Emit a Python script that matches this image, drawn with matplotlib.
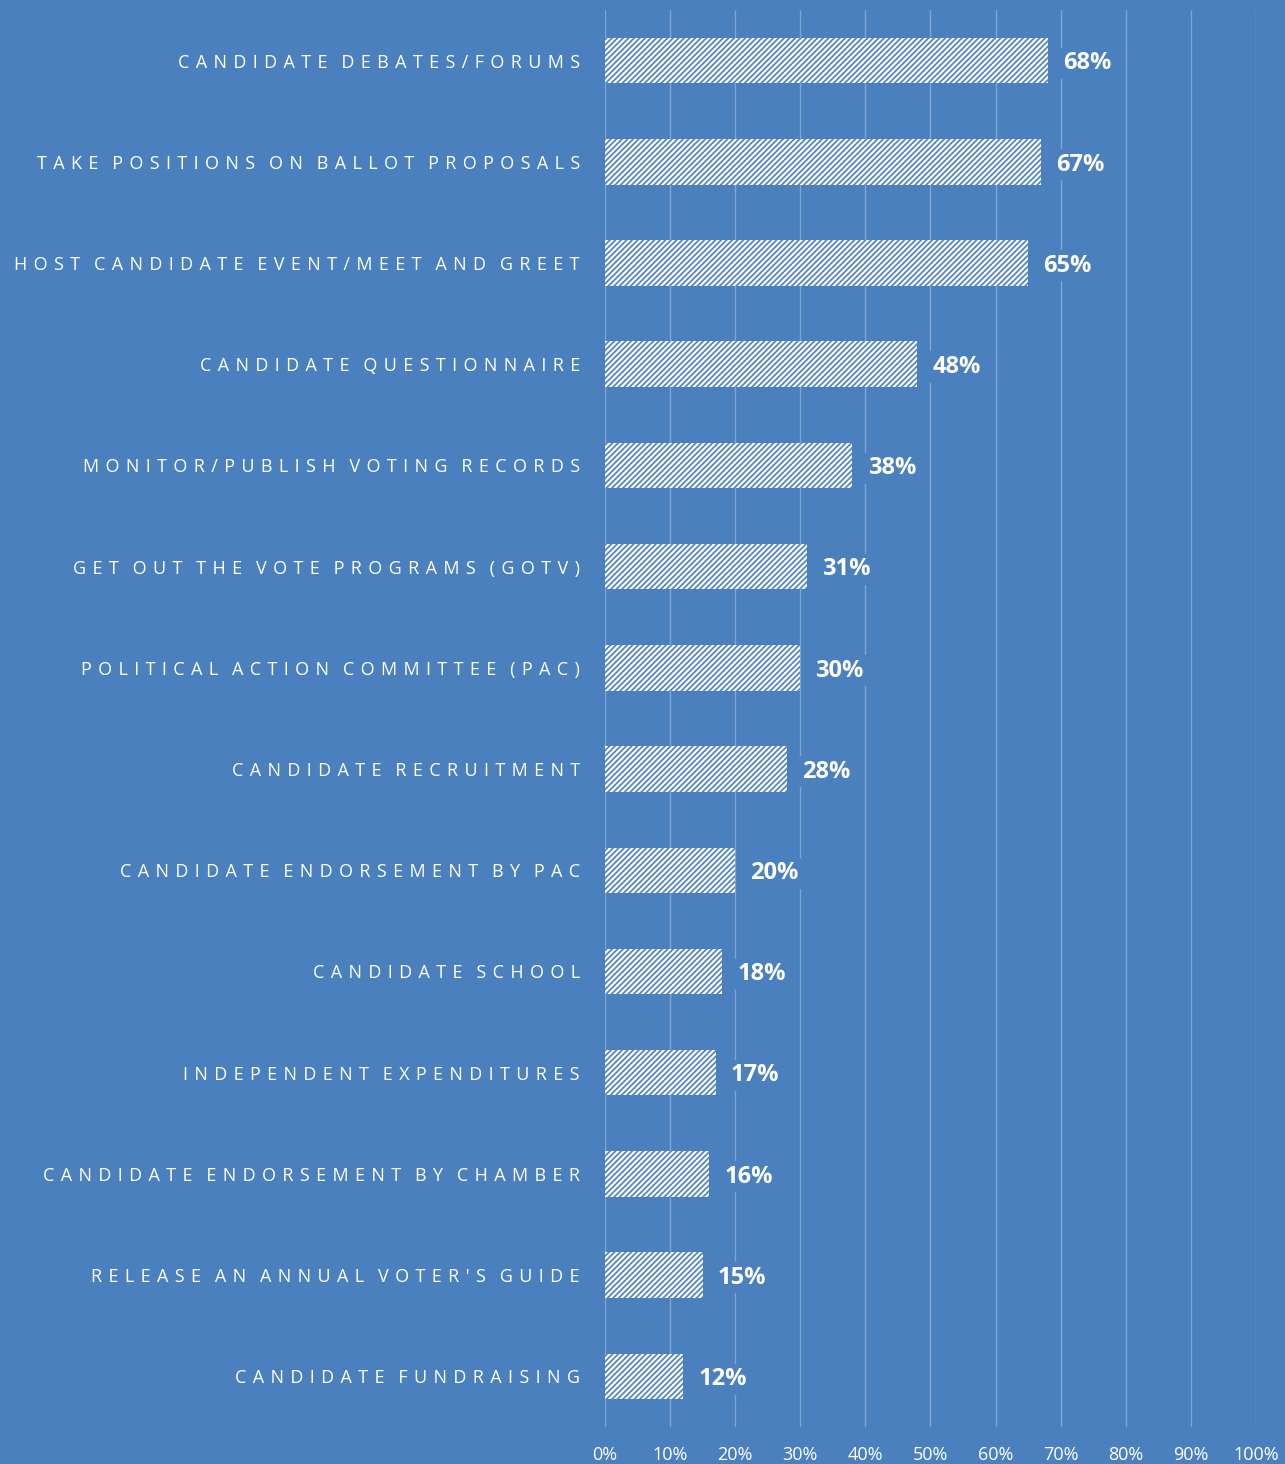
import matplotlib
matplotlib.use("Agg")
import matplotlib.pyplot as plt
from matplotlib.ticker import FuncFormatter

categories = [
    "Candidate Debates/Forums",
    "Take Positions on Ballot Proposals",
    "Host Candidate Event/Meet and Greet",
    "Candidate Questionnaire",
    "Monitor/Publish Voting Records",
    "Get Out the Vote Programs (GOTV)",
    "Political Action Committee (PAC)",
    "Candidate Recruitment",
    "Candidate Endorsement by PAC",
    "Candidate School",
    "Independent Expenditures",
    "Candidate Endorsement by Chamber",
    "Release an Annual Voter's Guide",
    "Candidate Fundraising",
]
values = [68, 67, 65, 48, 38, 31, 30, 28, 20, 18, 17, 16, 15, 12]
x_ticks = [0, 10, 20, 30, 40, 50, 60, 70, 80, 90, 100]

BG = "#4A80BE"
GRID = "#7FA6D4"
HATCH = "#4A80BE"

plt.rcParams["hatch.linewidth"] = 1.2
plt.rcParams["font.family"] = ["Open Sans", "DejaVu Sans"]


def tracked(s):
    # wide letter spacing: space + hair space between letters, three spaces between words
    return "   ".join(" \u200a".join(w) for w in s.upper().split(" "))


fig = plt.figure(figsize=(12.85, 14.64), dpi=100, facecolor=BG)
ax = fig.add_axes([0.4708, 0.0253, 0.5066, 0.9679])
ax.set_facecolor(BG)

ypos = list(range(len(categories)))
ax.barh(ypos, values, height=0.45, color="white", edgecolor=HATCH,
        linewidth=0, hatch="//////", zorder=2)

for y, v in zip(ypos, values):
    ax.annotate(f"{v}%", xy=(v, y), xytext=(11, -2), textcoords="offset points",
                ha="left", va="center", fontsize=17, fontweight="bold",
                color="white", zorder=4,
                bbox=dict(boxstyle="square,pad=0.15", fc=BG, ec="none"))

ax.set_xlim(0, 100)
ax.set_ylim(len(categories) - 0.5, -0.5)
ax.set_xticks(x_ticks)
ax.xaxis.set_major_formatter(FuncFormatter(lambda v, p: f"{v:.0f}%"))
ax.set_yticks(ypos)
ax.set_yticklabels([tracked(c) for c in categories], va="center_baseline")
ax.tick_params(axis="y", length=0, pad=18, labelsize=13, labelcolor="white")
ax.tick_params(axis="x", length=0, pad=14, labelsize=13, labelcolor="white")
ax.grid(axis="x", color=GRID, linewidth=1.0, zorder=0)
ax.set_axisbelow(True)
for s in ax.spines.values():
    s.set_visible(False)

fig.savefig("out.png", dpi=100, facecolor=BG)
